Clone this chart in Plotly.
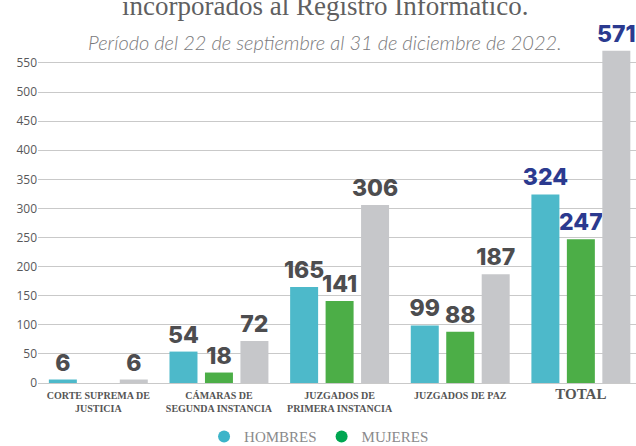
import plotly.graph_objects as go

categories = ["CORTE SUPREMA DE<br>JUSTICIA", "CÁMARAS DE<br>SEGUNDA INSTANCIA",
              "JUZGADOS DE<br>PRIMERA INSTANCIA", "JUZGADOS DE PAZ", "TOTAL"]
tick_labels = ["CORTE SUPREMA DE<br>JUSTICIA", "CÁMARAS DE<br>SEGUNDA INSTANCIA",
               "JUZGADOS DE<br>PRIMERA INSTANCIA", "JUZGADOS DE PAZ",
               "<span style='font-size:15px'><b>TOTAL</b></span>"]
hombres = [6, 54, 165, 99, 324]
mujeres = [None, 18, 141, 88, 247]
total = [6, 72, 306, 187, 571]
y_ticks = [0, 50, 100, 150, 200, 250, 300, 350, 400, 450, 500, 550]

title = "incorporados al Registro Informático."
subtitle = "Período del 22 de septiembre al 31 de diciembre de 2022."

label_grey = "#4d4d4f"
label_blue = "#2b3a8f"

def colors_for(vals):
    return [label_blue if i == len(vals) - 1 else label_grey for i in range(len(vals))]

def texts_for(vals):
    return ["" if v is None else str(v) for v in vals]

W = 0.232
STEP = 0.294
label_font = dict(family="Inter, Open Sans, sans-serif", size=23, weight=800)

fig = go.Figure()
series = [
    ("HOMBRES", hombres, "#4db9ca", -STEP - W / 2),
    ("MUJERES", mujeres, "#4cae47", -W / 2),
    ("TOTAL", total, "#c6c7ca", STEP - W / 2),
]
for name, vals, col, off in series:
    fig.add_trace(go.Bar(
        x=categories, y=vals, name=name, width=W, offset=off,
        marker=dict(color=col, line=dict(width=0)),
        text=texts_for(vals), textposition="outside", constraintext="none",
        textfont=dict(color=colors_for(vals), **label_font),
        cliponaxis=False, showlegend=False, hoverinfo="skip",
    ))

for name, col in [("HOMBRES", "#3cb4c9"), ("MUJERES", "#00a651")]:
    fig.add_trace(go.Scatter(x=[None], y=[None], mode="markers", name=name,
                             marker=dict(symbol="circle", size=9, color=col)))

fig.add_annotation(text=title, xref="paper", yref="paper", x=0.48, y=1.10,
                   xanchor="center", yanchor="middle", showarrow=False,
                   font=dict(family="Liberation Serif", size=27, color="#5f5f61"))
fig.add_annotation(text=subtitle, xref="paper", yref="paper", x=0.48, y=0.993,
                   xanchor="center", yanchor="middle", showarrow=False,
                   font=dict(family="Lato, Open Sans", size=20, color="#7a7a7c",
                             style="italic", weight=300))

fig.update_layout(
    width=636, height=446,
    margin=dict(l=38, r=0, t=40, b=63, autoexpand=False),
    paper_bgcolor="white", plot_bgcolor="white",
    barmode="overlay",
    xaxis=dict(range=[-0.5, 4.457], tickmode="array", tickvals=categories,
               ticktext=tick_labels, showgrid=False, zeroline=False,
               showline=False, ticks="", automargin=False, ticklabelstandoff=5,
               tickfont=dict(family="Liberation Serif", size=10, color="#555555", weight=700)),
    yaxis=dict(range=[0, 589.5], tickvals=y_ticks, showgrid=True,
               gridcolor="#c9c9c9", gridwidth=1, zeroline=True, automargin=False,
               zerolinecolor="#c9c9c9", zerolinewidth=1, ticks="",
               tickfont=dict(family="Open Sans", size=12, color="#58585a")),
    legend=dict(orientation="h", xref="paper", x=0.47, xanchor="center",
                yref="paper", y=-0.157, yanchor="middle",
                font=dict(family="Liberation Serif", size=15, color="#8a8a8c"),
                itemsizing="constant"),
)

# remove the default 8px page margin so the figure fills the window exactly
fig.write_html("out.html", config={"displayModeBar": False},
               post_script="document.body.style.margin='0';document.body.style.overflow='hidden';")
